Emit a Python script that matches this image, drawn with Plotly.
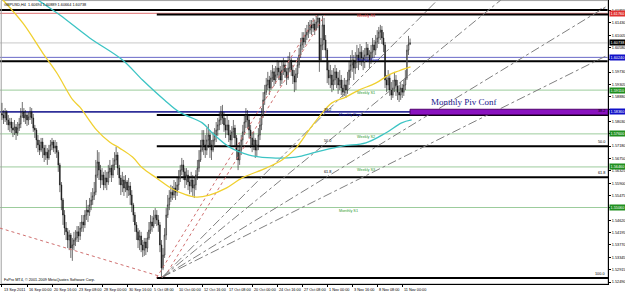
import plotly.graph_objects as go

# ---------------- data (GBPUSD H4) ----------------
time_labels = ["13 Sep 2011", "16 Sep 00:00", "20 Sep 16:00", "23 Sep 08:00", "28 Sep 00:00",
               "30 Sep 16:00", "5 Oct 08:00", "10 Oct 00:00", "12 Oct 16:00", "17 Oct 08:00",
               "20 Oct 00:00", "24 Oct 16:00", "27 Oct 08:00", "1 Nov 00:00", "3 Nov 16:00",
               "8 Nov 08:00", "11 Nov 00:00"]
time_label_bars = [0, 16, 32, 48, 64, 80, 96, 112, 128, 144, 160, 176, 192, 208, 224, 240, 256]

first_open = 1.5830
close = [1.5825, 1.5815, 1.5835, 1.5808, 1.5791, 1.5801, 1.5780, 1.5773, 1.5784, 1.5763,
         1.5780, 1.5794, 1.5822, 1.5835, 1.5815, 1.5825, 1.5808, 1.5818, 1.5835, 1.5815,
         1.5780, 1.5773, 1.5739, 1.5722, 1.5704, 1.5732, 1.5711, 1.5687, 1.5697, 1.5677,
         1.5704, 1.5722, 1.5732, 1.5711, 1.5718, 1.5697, 1.5653, 1.5584, 1.5532, 1.5480,
         1.5435, 1.5422, 1.5394, 1.5411, 1.5366, 1.5377, 1.5394, 1.5401, 1.5422, 1.5408,
         1.5435, 1.5456, 1.5446, 1.5480, 1.5497, 1.5490, 1.5515, 1.5532, 1.5546, 1.5559,
         1.5618, 1.5663, 1.5635, 1.5601, 1.5618, 1.5584, 1.5608, 1.5594, 1.5629, 1.5642,
         1.5618, 1.5653, 1.5670, 1.5687, 1.5642, 1.5608, 1.5584, 1.5601, 1.5573, 1.5594,
         1.5566, 1.5580, 1.5549, 1.5515, 1.5480, 1.5446, 1.5422, 1.5394, 1.5408, 1.5377,
         1.5359, 1.5387, 1.5366, 1.5401, 1.5428, 1.5456, 1.5442, 1.5470, 1.5480, 1.5463,
         1.5446, 1.5377, 1.5297, 1.5342, 1.5411, 1.5480, 1.5515, 1.5539, 1.5559, 1.5549,
         1.5573, 1.5559, 1.5584, 1.5608, 1.5635, 1.5653, 1.5629, 1.5601, 1.5618, 1.5594,
         1.5580, 1.5601, 1.5573, 1.5584, 1.5618, 1.5642, 1.5670, 1.5704, 1.5739, 1.5722,
         1.5704, 1.5739, 1.5756, 1.5722, 1.5704, 1.5739, 1.5756, 1.5773, 1.5791, 1.5808,
         1.5835, 1.5815, 1.5791, 1.5773, 1.5791, 1.5756, 1.5739, 1.5767, 1.5780, 1.5746,
         1.5704, 1.5670, 1.5704, 1.5739, 1.5767, 1.5801, 1.5825, 1.5808, 1.5773, 1.5746,
         1.5722, 1.5739, 1.5704, 1.5722, 1.5756, 1.5791, 1.5825, 1.5877, 1.5904, 1.5929,
         1.5946, 1.5918, 1.5953, 1.5974, 1.5946, 1.5963, 1.5987, 1.5974, 1.5946, 1.5980,
         1.5998, 1.5974, 1.5953, 1.5987, 1.6015, 1.5980, 1.5960, 1.5939, 1.5967, 1.5998,
         1.6032, 1.6067, 1.6091, 1.6077, 1.6101, 1.6111, 1.6118, 1.6136, 1.6125, 1.6139,
         1.6118, 1.6146, 1.6160, 1.6015, 1.6067, 1.6136, 1.6084, 1.6049, 1.5980, 1.5953,
         1.5963, 1.5929, 1.5946, 1.5974, 1.5953, 1.5929, 1.5946, 1.5918, 1.5904, 1.5929,
         1.5911, 1.5946, 1.5980, 1.5998, 1.6015, 1.5987, 1.6008, 1.6032, 1.6015, 1.6042,
         1.6022, 1.6008, 1.6032, 1.6056, 1.6032, 1.6015, 1.6042, 1.6067, 1.6049, 1.6077,
         1.6091, 1.6111, 1.6118, 1.6091, 1.6067, 1.5946, 1.5929, 1.5953, 1.5911, 1.5894,
         1.5918, 1.5946, 1.5925, 1.5904, 1.5894, 1.5918, 1.5904, 1.5929, 1.5953, 1.6049,
         1.60694, 1.60738]
high = [1.5867, 1.5842, 1.5849, 1.5842, 1.5825, 1.5815, 1.5815, 1.5801, 1.5808, 1.5794,
        1.5801, 1.5815, 1.5849, 1.5870, 1.5849, 1.5842, 1.5835, 1.5835, 1.5853, 1.5849,
        1.5829, 1.5791, 1.5780, 1.5756, 1.5739, 1.5746, 1.5746, 1.5722, 1.5722, 1.5711,
        1.5722, 1.5739, 1.5746, 1.5739, 1.5739, 1.5732, 1.5704, 1.5660, 1.5594, 1.5539,
        1.5497, 1.5456, 1.5435, 1.5428, 1.5418, 1.5401, 1.5422, 1.5428, 1.5442, 1.5442,
        1.5456, 1.5480, 1.5480, 1.5497, 1.5532, 1.5515, 1.5539, 1.5559, 1.5573, 1.5594,
        1.5670, 1.5704, 1.5697, 1.5653, 1.5642, 1.5629, 1.5635, 1.5629, 1.5653, 1.5670,
        1.5653, 1.5677, 1.5697, 1.5715, 1.5697, 1.5653, 1.5618, 1.5629, 1.5615, 1.5618,
        1.5601, 1.5608, 1.5594, 1.5566, 1.5522, 1.5490, 1.5456, 1.5435, 1.5428, 1.5422,
        1.5394, 1.5401, 1.5401, 1.5422, 1.5456, 1.5480, 1.5477, 1.5497, 1.5504, 1.5497,
        1.5480, 1.5456, 1.5394, 1.5366, 1.5435, 1.5504, 1.5549, 1.5566, 1.5584, 1.5580,
        1.5601, 1.5594, 1.5608, 1.5635, 1.5653, 1.5677, 1.5670, 1.5642, 1.5642, 1.5635,
        1.5615, 1.5629, 1.5618, 1.5608, 1.5635, 1.5670, 1.5704, 1.5739, 1.5773, 1.5773,
        1.5756, 1.5780, 1.5794, 1.5773, 1.5739, 1.5767, 1.5780, 1.5801, 1.5815, 1.5835,
        1.5856, 1.5860, 1.5835, 1.5815, 1.5822, 1.5808, 1.5773, 1.5787, 1.5808, 1.5791,
        1.5756, 1.5722, 1.5732, 1.5756, 1.5791, 1.5825, 1.5849, 1.5842, 1.5825, 1.5791,
        1.5767, 1.5767, 1.5746, 1.5739, 1.5780, 1.5815, 1.5849, 1.5904, 1.5929, 1.5953,
        1.5974, 1.5960, 1.5980, 1.5998, 1.5987, 1.5994, 1.6015, 1.6008, 1.5994, 1.6008,
        1.6022, 1.6015, 1.5987, 1.6029, 1.6042, 1.6022, 1.5998, 1.5980, 1.5987, 1.6022,
        1.6056, 1.6091, 1.6111, 1.6111, 1.6125, 1.6136, 1.6146, 1.6153, 1.6153, 1.6160,
        1.6153, 1.6167, 1.6170, 1.6160, 1.6091, 1.6167, 1.6160, 1.6101, 1.6056, 1.6008,
        1.5998, 1.5980, 1.5987, 1.5998, 1.5987, 1.5974, 1.5980, 1.5963, 1.5946, 1.5953,
        1.5946, 1.5974, 1.6008, 1.6032, 1.6049, 1.6032, 1.6042, 1.6067, 1.6056, 1.6070,
        1.6063, 1.6049, 1.6056, 1.6077, 1.6070, 1.6049, 1.6067, 1.6091, 1.6084, 1.6101,
        1.6118, 1.6129, 1.6136, 1.6132, 1.6111, 1.6077, 1.5963, 1.5980, 1.5967, 1.5939,
        1.5946, 1.5974, 1.5963, 1.5946, 1.5929, 1.5939, 1.5932, 1.5946, 1.5980, 1.6067,
        1.6098, 1.60889]
low = [1.5808, 1.5794, 1.5801, 1.5791, 1.5773, 1.5767, 1.5763, 1.5749, 1.5756, 1.5739,
       1.5753, 1.5770, 1.5780, 1.5815, 1.5801, 1.5794, 1.5787, 1.5791, 1.5808, 1.5794,
       1.5767, 1.5746, 1.5711, 1.5697, 1.5687, 1.5697, 1.5677, 1.5663, 1.5670, 1.5653,
       1.5670, 1.5687, 1.5704, 1.5697, 1.5691, 1.5677, 1.5629, 1.5559, 1.5497, 1.5446,
       1.5411, 1.5394, 1.5366, 1.5359, 1.5332, 1.5322, 1.5359, 1.5373, 1.5387, 1.5387,
       1.5394, 1.5422, 1.5422, 1.5435, 1.5463, 1.5456, 1.5477, 1.5497, 1.5515, 1.5532,
       1.5549, 1.5608, 1.5601, 1.5573, 1.5584, 1.5566, 1.5573, 1.5566, 1.5584, 1.5608,
       1.5594, 1.5608, 1.5635, 1.5653, 1.5618, 1.5584, 1.5549, 1.5559, 1.5546, 1.5559,
       1.5539, 1.5546, 1.5515, 1.5490, 1.5456, 1.5422, 1.5394, 1.5366, 1.5359, 1.5352,
       1.5335, 1.5339, 1.5342, 1.5352, 1.5394, 1.5415, 1.5422, 1.5435, 1.5449, 1.5442,
       1.5422, 1.5352, 1.5266, 1.5290, 1.5332, 1.5394, 1.5470, 1.5497, 1.5525, 1.5532,
       1.5539, 1.5532, 1.5546, 1.5566, 1.5594, 1.5618, 1.5601, 1.5573, 1.5584, 1.5566,
       1.5552, 1.5559, 1.5546, 1.5539, 1.5566, 1.5601, 1.5629, 1.5663, 1.5697, 1.5687,
       1.5677, 1.5687, 1.5711, 1.5677, 1.5670, 1.5697, 1.5722, 1.5732, 1.5753, 1.5773,
       1.5791, 1.5794, 1.5767, 1.5746, 1.5756, 1.5732, 1.5711, 1.5722, 1.5746, 1.5718,
       1.5670, 1.5635, 1.5653, 1.5687, 1.5722, 1.5756, 1.5780, 1.5780, 1.5746, 1.5711,
       1.5697, 1.5704, 1.5677, 1.5680, 1.5704, 1.5739, 1.5773, 1.5815, 1.5860, 1.5894,
       1.5911, 1.5894, 1.5911, 1.5939, 1.5925, 1.5932, 1.5953, 1.5946, 1.5925, 1.5932,
       1.5963, 1.5953, 1.5929, 1.5946, 1.5974, 1.5960, 1.5932, 1.5904, 1.5911, 1.5953,
       1.5987, 1.6022, 1.6049, 1.6056, 1.6067, 1.6084, 1.6091, 1.6105, 1.6101, 1.6111,
       1.6101, 1.6118, 1.6125, 1.5974, 1.6008, 1.6049, 1.6049, 1.6022, 1.5935, 1.5929,
       1.5918, 1.5904, 1.5911, 1.5929, 1.5918, 1.5898, 1.5911, 1.5894, 1.5887, 1.5891,
       1.5884, 1.5898, 1.5929, 1.5953, 1.5974, 1.5946, 1.5967, 1.5987, 1.5980, 1.5998,
       1.5994, 1.5980, 1.5987, 1.6015, 1.6008, 1.5987, 1.6001, 1.6022, 1.6022, 1.6032,
       1.6056, 1.6070, 1.6084, 1.6070, 1.6042, 1.5918, 1.5904, 1.5911, 1.5891, 1.5877,
       1.5884, 1.5904, 1.5891, 1.5877, 1.5870, 1.5877, 1.5884, 1.5891, 1.5911, 1.5946,
       1.6032, 1.60664]

# moving averages read at a few bars (bar index, price)
ma_yellow_bars = [0.6, 13.4, 26.1, 35.1, 45.3, 49.7, 60.6, 68.8, 75.2, 83.5, 89.9, 98.8, 109.0,
                  116.6, 124.3, 132.6, 143.4, 153.6, 168.9, 179.1, 188.0, 196.3, 202.7, 211.0,
                  219.9, 228.2, 239.0, 247.3, 253.7, 261.3]
ma_yellow = [1.6222, 1.6142, 1.6039, 1.5970, 1.5877, 1.5853, 1.5773, 1.5732, 1.5711, 1.5680,
             1.5642, 1.5608, 1.5570, 1.5552, 1.5542, 1.5549, 1.5573, 1.5608, 1.5642, 1.5670,
             1.5711, 1.5773, 1.5818, 1.5867, 1.5887, 1.5911, 1.5935, 1.5963, 1.5977, 1.5991]
ma_cyan_bars = [22.9, 37.0, 56.1, 77.1, 89.9, 103.9, 113.5, 128.1, 134.5, 145.3, 158.1, 172.7,
                188.0, 200.8, 217.4, 232.7, 245.4, 255.6, 262.0]
ma_cyan = [1.6222, 1.6170, 1.6091, 1.6015, 1.5946, 1.5877, 1.5835, 1.5798, 1.5763, 1.5715,
           1.5687, 1.5677, 1.5680, 1.5697, 1.5718, 1.5729, 1.5763, 1.5798, 1.5808]

# horizontal pivot levels
pivot_names = ["Weekly R1", "Weekly Pivot", "Weekly S1", "Monthly Pivot", "Weekly S2", "Weekly S3", "Monthly S1"]
pivot_prices = [1.6176, 1.6024, 1.5911, 1.5836, 1.5760, 1.5646, 1.5506]
pivot_colors = ["#e07070", "#6a6ac8", "#9ccc9c", "#30309a", "#9ccc9c", "#9ccc9c", "#9ccc9c"]
pivot_text_colors = ["#e03030", "#2020c0", "#2e9a2e", "#2020c0", "#2e9a2e", "#2e9a2e", "#2e9a2e"]
pivot_box_colors = ["#e03030", "#1010c8", "#1f8f1f", "#1010c8", "#1f8f1f", "#1f8f1f", "#1f8f1f"]
pivot_label_bars = [225.6, 225.6, 225.6, 214.2, 225.6, 225.6, 214.2]

# user drawn black horizontal lines
black_lines = [1.6187, 1.6011]
bid_price = 1.60738

# fibonacci retracement
fib_high = 1.6172
fib_low = 1.5263
fib_start_bar = 99.0
fib_levels = [0.0, 38.2, 50.0, 61.8, 100.0]
fib_mid_label_bar = 204.5

# trend lines: (bar1, price1, bar2, price2, colour, dash, extend)
trend_lines = [
    (-1.3, 1.5435, 102.6, 1.5266, "#d07070", "dot", False),
    (98.8, 1.5263, 201.4, 1.6170, "#d07070", "dot", False),
    (103.9, 1.5266, 206.5, 1.6170, "#d07070", "dot", False),
    (102.6, 1.5266, 277.3, 1.6215, "#808080", "dashdot", True),
    (102.6, 1.5266, 317.5, 1.6215, "#808080", "dashdot", True),
    (102.6, 1.5266, 262.0, 1.5790, "#808080", "dashdot", True),
    (102.6, 1.5266, 381.2, 1.6015, "#808080", "dashdot", True),
]

# right price scale (labels hidden behind the price boxes are left empty, as in the picture)
y_tick_values = [1.52490, 1.52915, 1.53345, 1.53770, 1.54195, 1.54620, 1.55050,
                 1.55475, 1.55900, 1.56325, 1.56750, 1.57180, 1.57605, 1.58030,
                 1.58455, 1.58880, 1.59305, 1.59730, 1.60155, 1.60580, 1.61005,
                 1.61430, 1.61855]
y_tick_labels = ["1.52490", "1.52915", "1.53345", "1.53770", "1.54195", "1.54620", "",
                 "1.55475", "1.55900", "1.56325", "1.56750", "1.57180", "", "1.58030",
                 "", "1.58880", "1.59305", "1.59730", "", "1.60580", "1.61005",
                 "1.61430", "1.61855"]

# ---------------- figure ----------------
X_MIN, X_MAX = -1.275, 387.6
Y_MIN, Y_MAX = 1.52421, 1.62219
FONT = "Liberation Sans"
SMALL = 3.8

bars = list(range(len(close)))
opens = [first_open] + close[:-1]
hi = [max(h, o, c) for h, o, c in zip(high, opens, close)]
lo = [min(l, o, c) for l, o, c in zip(low, opens, close)]

fig = go.Figure()
shapes = []
annotations = []

# horizontal lines
for p in black_lines:
    shapes.append(dict(type="line", xref="paper", x0=0, x1=1, yref="y", y0=p, y1=p,
                       line=dict(color="black", width=2), layer="below"))
shapes.append(dict(type="line", xref="paper", x0=0, x1=1, yref="y", y0=bid_price, y1=bid_price,
                   line=dict(color="#c8c8c8", width=1), layer="below"))
for name, p, col in zip(pivot_names, pivot_prices, pivot_colors):
    w = 1.6 if name == "Monthly Pivot" else 1
    shapes.append(dict(type="line", xref="paper", x0=0, x1=1, yref="y", y0=p, y1=p,
                       line=dict(color=col, width=w), layer="below"))

# fib lines
for lv in fib_levels:
    p = fib_high - lv / 100.0 * (fib_high - fib_low)
    shapes.append(dict(type="line", xref="x", x0=fib_start_bar, x1=X_MAX, yref="y", y0=p, y1=p,
                       line=dict(color="black", width=2), layer="below"))
    txt = "%.1f" % lv
    annotations.append(dict(x=X_MAX, y=p, xref="x", yref="y", text=txt, showarrow=False,
                            xanchor="right", yanchor="bottom", xshift=-1, yshift=0,
                            font=dict(size=SMALL, color="black", family=FONT)))
    if lv in (38.2, 50.0, 61.8):
        annotations.append(dict(x=fib_mid_label_bar, y=p, xref="x", yref="y", text=txt, showarrow=False,
                                xanchor="left", yanchor="bottom", yshift=1,
                                font=dict(size=SMALL, color="black", family=FONT)))

# monthly pivot confluence band
mp = pivot_prices[3]
shapes.append(dict(type="rect", xref="x", x0=bars[-1], x1=X_MAX, yref="y", y0=mp - 0.0010, y1=mp + 0.0009,
                   fillcolor="#8a12c0", line=dict(color="#50006e", width=1), layer="above"))

# trend lines
for b1, p1, b2, p2, col, dash, ext in trend_lines:
    xs = [b1, b2]
    ys = [p1, p2]
    if ext:
        slope = (p2 - p1) / (b2 - b1)
        xs.append(X_MAX + 20)
        ys.append(p1 + slope * (X_MAX + 20 - b1))
    fig.add_trace(go.Scatter(x=xs, y=ys, mode="lines", line=dict(color=col, width=1, dash=dash),
                             hoverinfo="skip", showlegend=False))

# moving averages
fig.add_trace(go.Scatter(x=ma_cyan_bars, y=ma_cyan, mode="lines", line=dict(color="#3cc4c4", width=1.3, shape="spline"),
                         hoverinfo="skip", showlegend=False))
fig.add_trace(go.Scatter(x=ma_yellow_bars, y=ma_yellow, mode="lines", line=dict(color="#f0d030", width=1.3, shape="spline"),
                         hoverinfo="skip", showlegend=False))

# candles
fig.add_trace(go.Candlestick(x=bars, open=opens, high=hi, low=lo, close=close,
                             increasing=dict(line=dict(color="#111111", width=0.6), fillcolor="white"),
                             decreasing=dict(line=dict(color="#111111", width=0.6), fillcolor="black"),
                             whiskerwidth=0, showlegend=False, hoverinfo="skip"))

# pivot labels
for name, p, tc, lb in zip(pivot_names, pivot_prices, pivot_text_colors, pivot_label_bars):
    annotations.append(dict(x=lb, y=p, xref="x", yref="y", text=name, showarrow=False,
                            xanchor="left", yanchor="top", yshift=1,
                            font=dict(size=SMALL, color=tc, family=FONT)))

annotations.append(dict(x=272.8, y=1.5870, xref="x", yref="y", text="Monthly Piv Conf", showarrow=False,
                        xanchor="left", yanchor="middle",
                        font=dict(size=9, color="#20208c", family="Liberation Serif")))

# right axis price boxes
box_prices = pivot_prices + [bid_price]
box_colors = pivot_box_colors + ["black"]
for p, col in zip(box_prices, box_colors):
    annotations.append(dict(x=1, y=p, xref="paper", yref="y", text="%.5f" % p, showarrow=False,
                            xanchor="left", yanchor="middle", xshift=1, bgcolor=col, borderpad=0.6,
                            font=dict(size=SMALL, color="white", family=FONT)))

# time labels
for lab, b in zip(time_labels, time_label_bars):
    annotations.append(dict(x=b, y=0, xref="x", yref="paper", text=lab, showarrow=False,
                            xanchor="left", yanchor="top", yshift=-1.5,
                            font=dict(size=SMALL, color="black", family=FONT)))

annotations.append(dict(x=0.004, y=1, xref="paper", yref="paper",
                        text="GBPUSD,H4  1.60694 1.60889 1.60664 1.60738", showarrow=False,
                        xanchor="left", yanchor="top", yshift=-1,
                        font=dict(size=SMALL, color="black", family=FONT)))
annotations.append(dict(x=0.004, y=0, xref="paper", yref="paper",
                        text="FxPro MT4, © 2001-2009 MetaQuotes Software Corp.", showarrow=False,
                        xanchor="left", yanchor="bottom", yshift=0.5,
                        font=dict(size=SMALL, color="black", family=FONT)))

# frame
shapes.append(dict(type="rect", xref="paper", yref="paper", x0=0.002, x1=1, y0=0, y1=0.998,
                   line=dict(color="#a0a0a0", width=1), layer="below"))

fig.update_layout(
    width=625, height=292,
    margin=dict(l=0, r=15, t=0, b=8),
    paper_bgcolor="white", plot_bgcolor="white",
    showlegend=False,
    shapes=shapes, annotations=annotations,
    xaxis=dict(range=[X_MIN, X_MAX], showgrid=False, zeroline=False, rangeslider=dict(visible=False),
               showline=True, linecolor="black", linewidth=1, ticks="outside", ticklen=2,
               tickcolor="black", tickvals=time_label_bars, showticklabels=False),
    yaxis=dict(range=[Y_MIN, Y_MAX], side="right", showgrid=False, zeroline=False,
               showline=True, linecolor="black", linewidth=1, ticks="outside", ticklen=2,
               tickcolor="black", tickvals=y_tick_values, ticktext=y_tick_labels,
               tickfont=dict(size=SMALL, color="black", family=FONT)),
)

fig.write_html("out.html")
